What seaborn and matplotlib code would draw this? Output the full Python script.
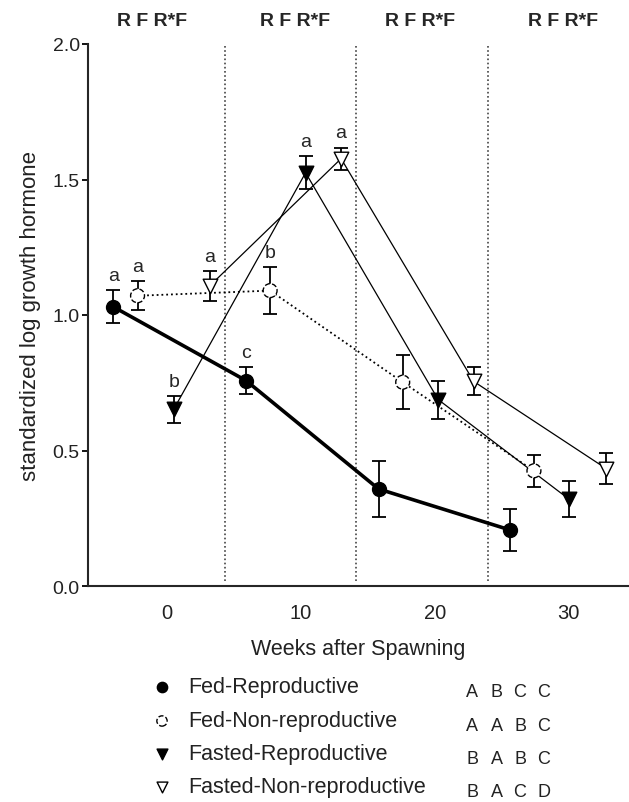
import matplotlib
matplotlib.use('Agg')
import matplotlib.pyplot as plt
import seaborn as sns

# ---- data ----
groups = ['Fed-Reproductive', 'Fed-Non-reproductive',
          'Fasted-Reproductive', 'Fasted-Non-reproductive']

fed_rep_weeks = [-4.0, 5.9, 15.8, 25.6]
fed_rep_gh = [1.030, 0.758, 0.358, 0.207]
fed_rep_se = [0.061, 0.050, 0.105, 0.078]

fed_non_weeks = [-2.2, 7.7, 17.6, 27.4]
fed_non_gh = [1.071, 1.090, 0.752, 0.425]
fed_non_se = [0.053, 0.086, 0.100, 0.060]

fast_rep_weeks = [0.5, 10.35, 20.25, 30.0]
fast_rep_gh = [0.652, 1.525, 0.688, 0.321]
fast_rep_se = [0.050, 0.060, 0.070, 0.068]

fast_non_weeks = [3.2, 13.0, 22.9, 32.8]
fast_non_gh = [1.108, 1.577, 0.755, 0.433]
fast_non_se = [0.055, 0.041, 0.052, 0.057]

# lowercase letters over the first two time points
fed_rep_sig = ['a', 'c']
fed_non_sig = ['a', 'b']
fast_rep_sig = ['b', 'a']
fast_non_sig = ['a', 'a']

block_label = 'R F R*F'
block_label_weeks = [-1.1, 9.6, 18.9, 29.6]
period_breaks = [4.3, 14.1, 24.0]

# uppercase letters in the legend, one list per group
posthoc = [['A', 'B', 'C', 'C'],
           ['A', 'A', 'B', 'C'],
           ['B', 'A', 'B', 'C'],
           ['B', 'A', 'C', 'D']]

series = [
    dict(x=fed_rep_weeks, y=fed_rep_gh, se=fed_rep_se, sig=fed_rep_sig,
         marker='o', face='black', ls='-', lw=2.6, s=100, edge_ls='-'),
    dict(x=fed_non_weeks, y=fed_non_gh, se=fed_non_se, sig=fed_non_sig,
         marker='o', face='white', ls=':', lw=1.3, s=100, edge_ls='--'),
    dict(x=fast_rep_weeks, y=fast_rep_gh, se=fast_rep_se, sig=fast_rep_sig,
         marker='v', face='black', ls='-', lw=0.9, s=110, edge_ls='-'),
    dict(x=fast_non_weeks, y=fast_non_gh, se=fast_non_se, sig=fast_non_sig,
         marker='v', face='white', ls='-', lw=0.9, s=110, edge_ls='-'),
]

# ---- figure ----
sns.set_style('ticks')
plt.rcParams['font.family'] = ['Liberation Sans', 'DejaVu Sans']

W, H = 629, 803
fig = plt.figure(figsize=(W / 100, H / 100), dpi=100)
ax = fig.add_axes([88 / W, 1 - 587 / H, 1 - 88 / W, (587 - 45) / H])

for b in period_breaks:
    ax.vlines(b, 0.02, 2.0, colors='#444444', linestyles=(0, (1, 1.5)), lw=1.2, zorder=1)

for st in series:
    sns.lineplot(x=st['x'], y=st['y'], ax=ax, color='black', lw=st['lw'],
                 linestyle=st['ls'], sort=False, errorbar=None, zorder=2)
    ax.errorbar(st['x'], st['y'], yerr=st['se'], fmt='none', ecolor='black',
                elinewidth=1.3, capsize=5.3, capthick=1.3, zorder=3)
    sns.scatterplot(x=st['x'], y=st['y'], ax=ax, marker=st['marker'], s=st['s'],
                    color=st['face'], edgecolor='black', linewidth=1.0,
                    linestyle=st['edge_ls'], zorder=4)
    for i, letter in enumerate(st['sig']):
        ax.annotate(letter, (st['x'][i], st['y'][i] + st['se'][i]),
                    xytext=(0, 10.5), textcoords='offset points',
                    ha='center', va='center', fontsize=14)

for wk in block_label_weeks:
    ax.text(wk, 2.085, block_label, ha='center', va='center',
            fontsize=14, fontweight='bold', clip_on=False)

ax.set_xlim(-5.9, 34.5)
ax.set_ylim(0, 2.0)
ax.set_xticks([0, 10, 20, 30])
ax.set_yticks([0.0, 0.5, 1.0, 1.5, 2.0])
ax.set_yticklabels([f'{v:.1f}' for v in [0.0, 0.5, 1.0, 1.5, 2.0]])
ax.tick_params(axis='x', length=0, pad=12, labelsize=14.5)
ax.tick_params(axis='y', length=4.5, width=1.3, pad=1.5, labelsize=14)
ax.tick_params(colors='black', which='both', labelcolor='#222222')
sns.despine(ax=ax)
ax.spines['left'].set_linewidth(1.5)
ax.spines['bottom'].set_linewidth(1.5)
ax.set_xlabel('Weeks after Spawning', fontsize=15.5, labelpad=12, color='#222222')
ax.set_ylabel('standardized log growth hormone', fontsize=16, labelpad=8, color='#222222')

# ---- legend with group letters, drawn in a pixel-space overlay ----
lay = fig.add_axes([0, 0, 1, 1], zorder=5)
lay.set_xlim(0, W)
lay.set_ylim(H, 0)
lay.axis('off')

row_y = [688, 722, 755, 788]
col_x = [472, 497, 520, 544]
for st, name, y0, letters in zip(series, groups, row_y, posthoc):
    lay.scatter([162], [y0], marker=st['marker'], s=st['s'] * 0.55,
                color=st['face'], edgecolor='black', linewidth=1.0,
                linestyle=st['edge_ls'])
    lay.text(188, y0, name, ha='left', va='center', fontsize=15.5, color='#222222')
    for cx, letter in zip(col_x, letters):
        lay.text(cx, y0 + 5, letter, ha='center', va='center', fontsize=13, color='#222222')

fig.savefig('out.png', dpi=100)
